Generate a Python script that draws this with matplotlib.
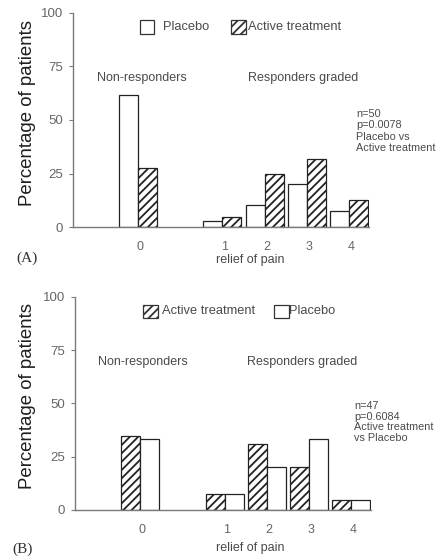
import matplotlib
matplotlib.use("Agg")
import matplotlib.pyplot as plt
from matplotlib.patches import Rectangle
import numpy as np

plt.rcParams['font.family'] = ['Liberation Sans', 'DejaVu Sans']
plt.rcParams['hatch.linewidth'] = 1.3

# ---- data ----
grades = ["0", "1", "2", "3", "4"]
grade_pos = [0, 2, 3, 4, 5]          # gap between non-responders and responders

a_placebo = [61.5, 3, 10.5, 20, 7.5]
a_active = [27.5, 5, 25, 32, 12.5]

b_active = [34.8, 7.5, 31, 20.3, 4.7]
b_placebo = [33.1, 7.5, 20.3, 33.1, 4.7]

yticks = [0, 25, 50, 75, 100]
a_note = "n=50\np=0.0078\nPlacebo vs\nActive treatment"
b_note = "n=47\np=0.6084\nActive treatment\nvs Placebo"

W, H = 438, 560
fig = plt.figure(figsize=(W / 100, H / 100), dpi=100)
TXT = '#4a4a4a'
GRAY = '#7a7a7a'
HATCH = '////'


def fx(px):
    return px / W


def fy(py):
    return 1 - py / H


def panel(rect, first, second, first_hatch, second_hatch):
    ax = fig.add_axes(rect)
    pos = np.array(grade_pos, dtype=float)
    w = 0.45
    ax.bar(pos - w / 2, first, width=w, color='white', edgecolor='#222222',
           linewidth=0.9, hatch=first_hatch)
    ax.bar(pos + w / 2, second, width=w, color='white', edgecolor='#222222',
           linewidth=0.9, hatch=second_hatch)
    ax.set_xlim(-1.54, 5.46)
    ax.set_ylim(0, 100)
    ax.set_yticks(yticks)
    ax.set_xticks(pos + 0.05)
    ax.set_xticklabels(grades)
    for s in ['top', 'right']:
        ax.spines[s].set_visible(False)
    for s in ['left', 'bottom']:
        ax.spines[s].set_color(GRAY)
        ax.spines[s].set_linewidth(1.0)
    ax.tick_params(axis='y', length=3, width=0.8, color=GRAY, labelsize=9.5,
                   labelcolor='#666666', pad=4)
    ax.tick_params(axis='x', length=0, labelsize=9, labelcolor='#666666', pad=10)
    ax.set_facecolor('none')
    return ax


def legend_item(x0, yc, hatch, label, tx):
    fig.add_artist(Rectangle((fx(x0), fy(yc + 6.5)), 14.5 / W, 13 / H,
                             transform=fig.transFigure, facecolor='white',
                             edgecolor='#333333', linewidth=0.9, hatch=hatch))
    fig.text(fx(tx), fy(yc), label, fontsize=9.3, color=TXT, va='center', ha='left')


# ---- Panel A ----
axA = panel([fx(72.7), fy(227.3), 295.8 / W, (227.3 - 12.5) / H],
            a_placebo, a_active, None, HATCH)
legend_item(139.5, 27, None, "Placebo", 163)
legend_item(231, 27, HATCH, "Active treatment", 248)
fig.text(fx(142), fy(78), "Non-responders", fontsize=9, color=TXT, ha='center', va='center')
fig.text(fx(303), fy(78), "Responders graded", fontsize=9, color=TXT, ha='center', va='center')
fig.text(fx(356), fy(131), a_note, fontsize=7.8, color=TXT, ha='left', va='center',
         linespacing=1.15)
fig.text(fx(27.3), fy(113), "Percentage of patients", fontsize=13.4, color='#1e1e1e',
         rotation=90, ha='center', va='center')
fig.text(fx(250.5), fy(260), "relief of pain", fontsize=9, color=TXT, ha='center', va='center')
fig.text(fx(27), fy(258), "(A)", fontsize=11, color='#333333', ha='center', va='center',
         family=['Liberation Serif', 'DejaVu Serif'])

# ---- Panel B ----
axB = panel([fx(75), fy(510), 295.8 / W, (510 - 296.7) / H],
            b_active, b_placebo, HATCH, None)
legend_item(143, 311, HATCH, "Active treatment", 161.5)
legend_item(274, 311, None, "Placebo", 289.5)
fig.text(fx(142.5), fy(362), "Non-responders", fontsize=9, color=TXT, ha='center', va='center')
fig.text(fx(302.5), fy(362), "Responders graded", fontsize=9, color=TXT, ha='center', va='center')
fig.text(fx(354), fy(422), b_note, fontsize=7.8, color=TXT, ha='left', va='center',
         linespacing=1.12)
fig.text(fx(27.3), fy(396), "Percentage of patients", fontsize=13.4, color='#1e1e1e',
         rotation=90, ha='center', va='center')
fig.text(fx(250), fy(548), "relief of pain", fontsize=9, color=TXT, ha='center', va='center')
fig.text(fx(23), fy(549), "(B)", fontsize=11, color='#333333', ha='center', va='center',
         family=['Liberation Serif', 'DejaVu Serif'])

fig.savefig("out.png", dpi=100)
